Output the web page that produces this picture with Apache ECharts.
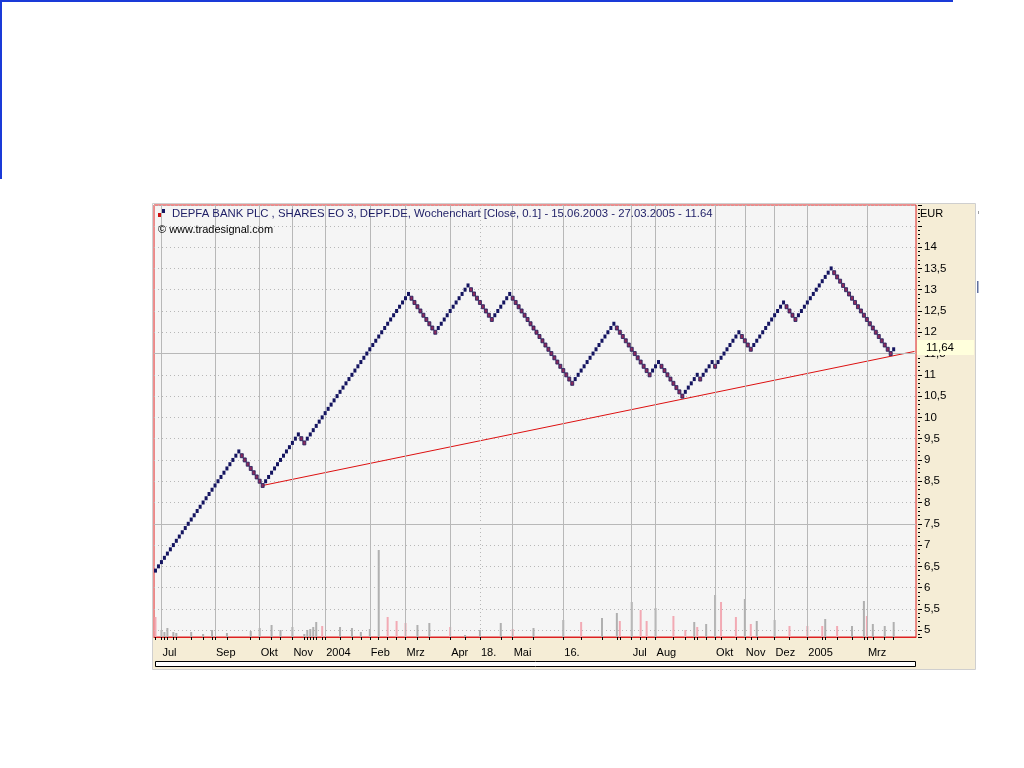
<!DOCTYPE html>
<html>
<head>
<meta charset="utf-8">
<script src="https://cdn.jsdelivr.net/npm/echarts/dist/echarts.min.js"></script>
<style>
html,body{margin:0;padding:0;background:#fff;}
#c{width:1024px;height:768px;}
</style>
</head>
<body>
<div id="c"></div>
<script>
// Renko bricks (box size 0.1), one per column
const bricks = [
6.4,6.5,6.6,6.7,6.8,6.9,7.0,7.1,7.2,7.3,7.4,7.5,7.6,7.7,7.8,7.9,8.0,8.1,8.2,8.3,8.4,8.5,8.6,8.7,8.8,8.9,9.0,9.1,9.2,
9.1,9.0,8.9,8.8,8.7,8.6,8.5,8.4,
8.5,8.6,8.7,8.8,8.9,9.0,9.1,9.2,9.3,9.4,9.5,9.6,
9.5,9.4,
9.5,9.6,9.7,9.8,9.9,10.0,10.1,10.2,10.3,10.4,10.5,10.6,10.7,10.8,10.9,11.0,11.1,11.2,11.3,11.4,11.5,11.6,11.7,11.8,11.9,12.0,12.1,12.2,12.3,12.4,12.5,12.6,12.7,12.8,12.9,
12.8,12.7,12.6,12.5,12.4,12.3,12.2,12.1,12.0,
12.1,12.2,12.3,12.4,12.5,12.6,12.7,12.8,12.9,13.0,13.1,
13.0,12.9,12.8,12.7,12.6,12.5,12.4,12.3,
12.4,12.5,12.6,12.7,12.8,12.9,
12.8,12.7,12.6,12.5,12.4,12.3,12.2,12.1,12.0,11.9,11.8,11.7,11.6,11.5,11.4,11.3,11.2,11.1,11.0,10.9,10.8,
10.9,11.0,11.1,11.2,11.3,11.4,11.5,11.6,11.7,11.8,11.9,12.0,12.1,12.2,
12.1,12.0,11.9,11.8,11.7,11.6,11.5,11.4,11.3,11.2,11.1,11.0,
11.1,11.2,11.3,
11.2,11.1,11.0,10.9,10.8,10.7,10.6,10.5,
10.6,10.7,10.8,10.9,11.0,
10.9,
11.0,11.1,11.2,11.3,
11.2,
11.3,11.4,11.5,11.6,11.7,11.8,11.9,12.0,
11.9,11.8,11.7,11.6,
11.7,11.8,11.9,12.0,12.1,12.2,12.3,12.4,12.5,12.6,12.7,
12.6,12.5,12.4,12.3,
12.4,12.5,12.6,12.7,12.8,12.9,13.0,13.1,13.2,13.3,13.4,13.5,
13.4,13.3,13.2,13.1,13.0,12.9,12.8,12.7,12.6,12.5,12.4,12.3,12.2,12.1,12.0,11.9,11.8,11.7,11.6,11.5,
11.6
];
const columnCount = 256;
const lastClose = 11.64;

// Time axis labels and the brick column where each starts
const monthLabels = ['Jul','Sep','Okt','Nov','2004','Feb','Mrz','Apr','18.','Mai','16.','Jul','Aug','Okt','Nov','Dez','2005','Mrz'];
const monthBricks = [2,20,35,46,57,72,84,99,109,120,137,160,168,188,198,208,219,239];

// Weekly volume (relative units), the column it sits in, and whether it was a down week
const volumeBricks = [0,2,3,4,6,7,12,16,19,24,32,35,39,42,46,50,51,52,53,54,56,62,66,69,72,75,78,81,84,88,92,99,104,109,116,120,127,137,143,150,155,156,160,163,165,168,174,178,181,182,185,188,190,195,198,200,202,208,213,219,224,225,229,234,238,239,241,245,248];
const volumeValues = [20,7,5,9,5,4,5,3,7,4,6,9,12,7,10,3,7,8,10,15,11,10,9,5,8,87,20,16,14,12,14,10,2,7,14,8,9,17,15,19,24,16,35,27,16,29,21,7,15,10,13,42,35,20,38,13,16,17,11,11,11,18,11,11,36,21,13,11,15];
const volumeDownBricks = [0,56,78,81,84,99,120,143,156,163,165,174,178,182,190,195,200,213,219,224,229,239];

// Support (trend) line end points [column, price]
const trendLine = [[36, 8.4], [255, 11.55]];

const categories = Array.from({length: columnCount}, (_, i) => String(i));

const upBricks = [], downBricks = [];
bricks.forEach((v, i) => {
  if (i === 0 || v >= bricks[i - 1]) upBricks.push([i, v]); else downBricks.push([i, v]);
});
const volData = new Array(columnCount).fill(null);
volumeBricks.forEach((b, i) => {
  const down = volumeDownBricks.includes(b);
  volData[b] = {value: volumeValues[i], itemStyle: {color: down ? '#f2aab4' : '#b0b0b0'}};
});
const tickSet = new Set([...volumeBricks, ...monthBricks]);
const monthMap = {};
monthBricks.forEach((b, i) => monthMap[b] = monthLabels[i]);

const FONT = "'Liberation Sans', Arial, sans-serif";
const chart = echarts.init(document.getElementById('c'));

chart.setOption({
  animation: false,
  backgroundColor: '#ffffff',
  grid: {
    left: 154, right: 108, top: 205, bottom: 131,
    show: true, backgroundColor: '#f5f5f5', borderColor: '#dd2020', borderWidth: 1
  },
  xAxis: {
    type: 'category',
    data: categories,
    boundaryGap: true,
    axisLine: {show: true, lineStyle: {color: '#dd2020'}},
    axisTick: {
      show: true, alignWithLabel: true, length: 3,
      interval: (idx) => tickSet.has(idx),
      lineStyle: {color: '#000'}
    },
    axisLabel: {
      show: true,
      interval: (idx) => monthMap[idx] !== undefined,
      formatter: (v, idx) => monthMap[idx] || '',
      align: 'left', margin: 10, padding: [0, 0, 0, 1],
      color: '#000', fontFamily: FONT, fontSize: 11
    },
    splitLine: {show: false}
  },
  yAxis: [{
    type: 'value',
    position: 'right',
    offset: 2,
    min: 4.84, max: 14.99,
    splitNumber: 20, minInterval: 0.5, maxInterval: 0.5,
    axisLine: {show: false},
    axisTick: {show: true, length: 4, lineStyle: {color: '#000'}},
    minorTick: {show: true, splitNumber: 5, length: 2, lineStyle: {color: '#000'}},
    axisLabel: {
      showMinLabel: false, showMaxLabel: false,
      margin: 6, color: '#000', fontFamily: FONT, fontSize: 11.5,
      formatter: (v) => v > 14.2 ? '' : String(v).replace('.', ',')
    },
    splitLine: {show: true, lineStyle: {color: '#b8b8b8', type: [1, 3], width: 1}}
  }, {
    type: 'value', min: 0, max: 432, show: false,
    splitLine: {show: false}
  }],
  series: [
    {
      type: 'line', data: [], silent: true, z: 1,
      markLine: {
        silent: true, symbol: ['none', 'none'], animation: false,
        label: {show: false},
        data: [
          ...monthBricks.map((b, i) => ({
            xAxis: b,
            lineStyle: {color: '#b8b8b8', width: 1, type: monthLabels[i] === '18.' ? [1, 3] : 'solid'}
          })),
          {yAxis: 7.5, lineStyle: {color: '#b8b8b8', width: 1, type: 'solid'}},
          {yAxis: 11.5, lineStyle: {color: '#b8b8b8', width: 1, type: 'solid'}}
        ]
      }
    },
    {
      type: 'bar', yAxisIndex: 1, data: volData, barWidth: 2, z: 2, silent: true
    },
    {
      type: 'line', data: trendLine, symbol: 'none', z: 3, silent: true,
      lineStyle: {color: '#dd1010', width: 1}
    },
    {
      type: 'scatter', data: upBricks, symbol: 'rect', symbolSize: [3, 4], z: 5, silent: true,
      itemStyle: {color: '#141460', opacity: 1}
    },
    {
      type: 'scatter', data: downBricks, symbol: 'rect', symbolSize: [3, 4], z: 5, silent: true,
      itemStyle: {color: '#8c2a5c', borderColor: '#1c1c5c', borderWidth: 0.8, opacity: 1}
    },
    {
      type: 'line', data: [], silent: true, clip: false, z: 10,
      markLine: {
        silent: true, symbol: ['none', 'none'], animation: false,
        data: [{
          yAxis: lastClose,
          lineStyle: {color: 'transparent', width: 0},
          label: {
            show: true, position: 'end', distance: 1,
            formatter: String(lastClose).replace('.', ','),
            backgroundColor: '#ffffdc', padding: [2, 20, 1, 9],
            color: '#000', fontFamily: FONT, fontSize: 11.5
          }
        }]
      }
    }
  ],
  graphic: [
    // page frame decorations
    {type: 'rect', shape: {x: 0, y: 0, width: 953, height: 2}, style: {fill: '#1a3ad8'}, z: 100},
    {type: 'rect', shape: {x: 0, y: 0, width: 2, height: 179}, style: {fill: '#1a3ad8'}, z: 100},
    // chart outer frame and beige axis panels
    {type: 'rect', shape: {x: 152.5, y: 203.5, width: 823, height: 466}, style: {fill: 'none', stroke: '#cfcfcf', lineWidth: 1}, z: -20},
    {type: 'rect', shape: {x: 916, y: 204, width: 59, height: 465}, style: {fill: '#f5edd6'}, z: -10},
    {type: 'rect', shape: {x: 153, y: 637, width: 822, height: 32}, style: {fill: '#f5edd6'}, z: -10},
    // scrollbar
    {type: 'rect', shape: {x: 155.5, y: 661.5, width: 760, height: 5}, style: {fill: '#ffffff', stroke: '#000', lineWidth: 1}, z: 50},
    // title icon
    {type: 'rect', shape: {x: 158, y: 213, width: 3, height: 4}, style: {fill: '#cc1010'}, z: 50},
    {type: 'rect', shape: {x: 162, y: 209, width: 3, height: 4}, style: {fill: '#141460'}, z: 50},
    {type: 'text', left: 172, top: 208, z: 50, style: {
      text: 'DEPFA BANK PLC , SHARES EO 3, DEPF.DE, Wochenchart [Close, 0.1] - 15.06.2003 - 27.03.2005 - 11.64',
      fill: '#1e1e66', font: "11.35px 'Liberation Sans', Arial, sans-serif"}},
    {type: 'text', left: 158, top: 224, z: 50, style: {
      text: '\u00a9 www.tradesignal.com', fill: '#000', font: "11px 'Liberation Sans', Arial, sans-serif"}},
    {type: 'text', left: 920, top: 208, z: 50, style: {
      text: 'EUR', fill: '#000', font: "11px 'Liberation Sans', Arial, sans-serif"}},
    // small marks outside the chart
    {type: 'rect', shape: {x: 977, y: 281, width: 1.5, height: 12}, style: {fill: '#6070a0'}, z: 50},
    {type: 'rect', shape: {x: 978, y: 211, width: 1, height: 3}, style: {fill: '#a0a0a0'}, z: 50}
  ]
});
</script>
</body>
</html>
